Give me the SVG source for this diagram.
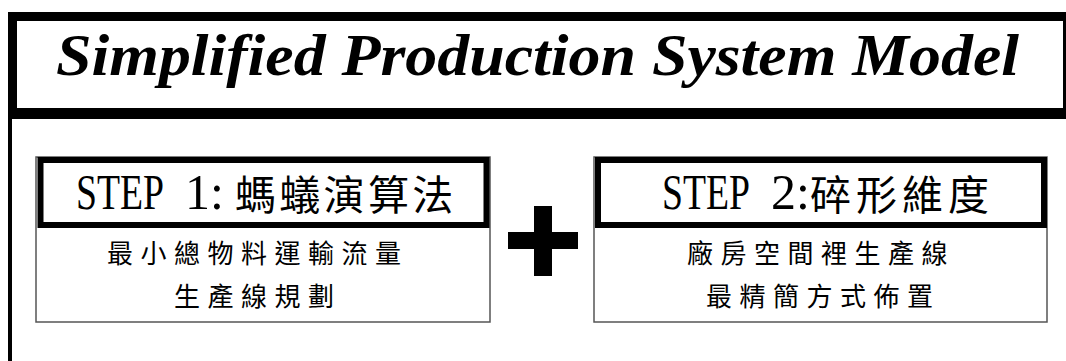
<svg xmlns="http://www.w3.org/2000/svg" width="1066" height="361" viewBox="0 0 1066 361">
<style>
.frame{fill:#fff;stroke:#000;stroke-width:9}
.outer{fill:#fff;stroke:#555;stroke-width:1.5}
.head{fill:#fff;stroke:#000;stroke-width:6}
.title{font-family:"Liberation Serif",serif;font-weight:bold;font-style:italic;font-size:60px;fill:#000}
.lat{font-family:"Liberation Serif",serif;font-size:50px;fill:#000}
.cjkh{font-family:"Noto Sans CJK TC","Noto Sans CJK SC",sans-serif;font-size:41px;fill:#000}
.body{font-family:"Noto Sans CJK TC","Noto Sans CJK SC",sans-serif;font-size:26px;fill:#000;letter-spacing:7.5px}
</style>
<rect width="1066" height="361" fill="#fff"/>
<g id="frame">
  <rect x="10" y="117" width="1070" height="260" fill="#fff" stroke="#000" stroke-width="4"/>
  <rect class="frame" x="12.5" y="16.5" width="1055" height="96"/>
</g>
<g id="title">
  <text class="title" x="56" y="75" textLength="963" lengthAdjust="spacingAndGlyphs">Simplified Production System Model</text>
</g>
<g id="step1">
  <rect class="outer" x="36" y="157" width="454" height="165"/>
  <rect class="head" x="40.5" y="160" width="446" height="65"/>
  <text class="lat" transform="translate(76,209) scale(0.754,1)">STEP</text>
  <text class="lat" x="185" y="209">1</text>
  <text class="lat" x="210" y="209">:</text>
  <text class="cjkh" x="235" y="210" style="letter-spacing:3.3px">螞蟻演算法</text>
  <text class="body" x="107" y="263">最小總物料運輸流量</text>
  <text class="body" x="174" y="306">生產線規劃</text>
</g>
<g id="plus">
  <rect x="534" y="206" width="18" height="70" fill="#000"/>
  <rect x="508" y="232" width="70" height="17" fill="#000"/>
</g>
<g id="step2">
  <rect class="outer" x="594" y="157" width="453" height="165"/>
  <rect class="head" x="598" y="160" width="446" height="65"/>
  <text class="lat" transform="translate(662,209) scale(0.754,1)">STEP</text>
  <text class="lat" x="771" y="209">2</text>
  <text class="lat" x="796" y="209">:</text>
  <text class="cjkh" x="810" y="210" style="letter-spacing:5px">碎形維度</text>
  <text class="body" x="687" y="263">廠房空間裡生產線</text>
  <text class="body" x="706" y="306">最精簡方式佈置</text>
</g>
<g id="connectors"/>
</svg>
